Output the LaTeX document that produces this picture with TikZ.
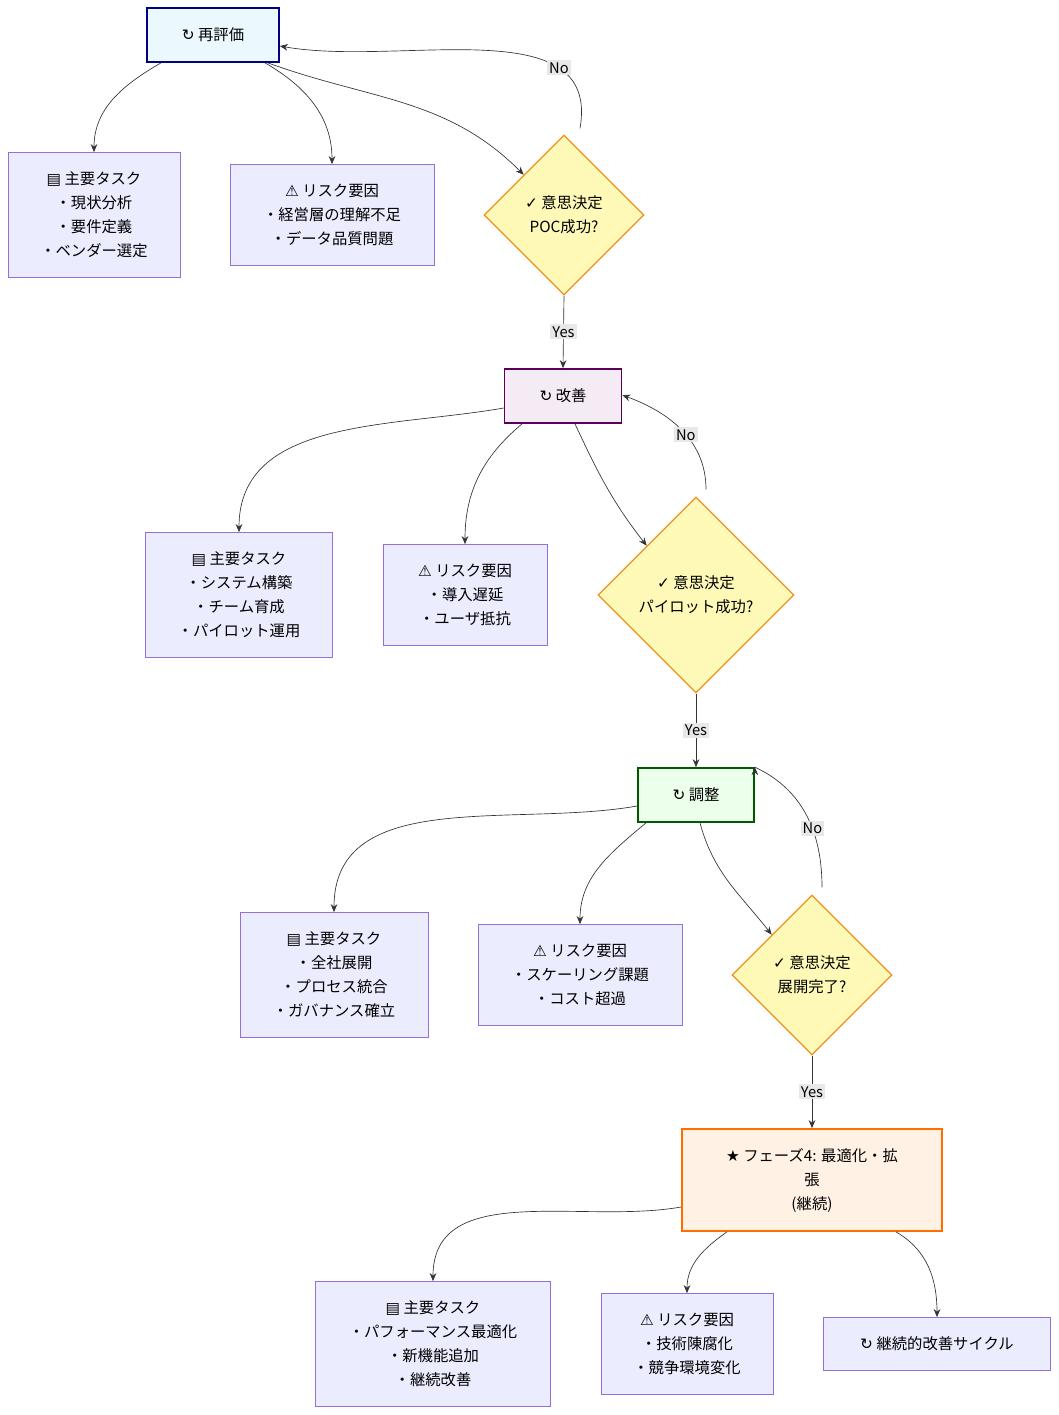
\documentclass[tikz,border=0pt]{standalone}
\usepackage{fontspec}
\setmainfont{Noto Sans CJK JP}
\newfontfamily\sym{DejaVu Sans}
\usetikzlibrary{arrows.meta,calc,positioning,shapes.geometric}
\definecolor{taskfill}{HTML}{ECECFF}
\definecolor{taskline}{HTML}{9370DB}
\definecolor{decfill}{HTML}{FFF9B8}
\definecolor{decline}{HTML}{F0901E}
\newcommand{\cyc}{{\sym ↻}\ }
\newcommand{\clip}{{\sym ▤}\ }
\newcommand{\warn}{{\sym ⚠}\ }
\newcommand{\chk}{{\sym ✓}\ }
\newcommand{\str}{{\sym ★}\ }
\tikzset{
  box/.style={draw=taskline,fill=taskfill,line width=0.6pt,align=center,inner sep=0pt,
    font=\fontsize{11.5}{18}\selectfont},
  stage/.style={box,line width=1.3pt,minimum height=54*0.75pt},
  dec/.style={diamond,draw=decline,fill=decfill,line width=1pt,align=center,aspect=1,
    inner sep=0pt,font=\fontsize{11.5}{18}\selectfont},
  lbl/.style={fill=black!9,inner sep=1.5pt,font=\fontsize{11}{13}\selectfont},
  arr/.style={-{Stealth[length=6pt,width=5pt]},draw=black!80,line width=0.5pt}
}
\begin{document}
\begin{tikzpicture}[x=0.75pt,y=-0.75pt]
\useasboundingbox (0,0) rectangle (1059,1415);
% stages
\node[stage,draw=blue!50!black,fill=cyan!8,minimum width=132*0.75pt] (reval) at (213,35) {\cyc 再評価};
\node[stage,draw=violet!70!black,fill=violet!8,minimum width=117*0.75pt] (imp) at (563,396) {\cyc 改善};
\node[stage,draw=green!35!black,fill=green!8,minimum width=116*0.75pt] (adj) at (696,795) {\cyc 調整};
\node[stage,draw=orange!85!red,fill=orange!10,minimum width=260*0.75pt,minimum height=102*0.75pt] (ph4) at (812,1180) {\str フェーズ4: 最適化・拡\\張\\(継続)};
% tasks and risks
\node[box,minimum width=172*0.75pt,minimum height=125*0.75pt] (task1) at (94,215) {\clip 主要タスク\\・現状分析\\・要件定義\\・ベンダー選定};
\node[box,minimum width=204*0.75pt,minimum height=101*0.75pt] (risk1) at (332,215) {\warn リスク要因\\・経営層の理解不足\\・データ品質問題};
\node[box,minimum width=187*0.75pt,minimum height=125*0.75pt] (task2) at (239,595) {\clip 主要タスク\\・システム構築\\・チーム育成\\・パイロット運用};
\node[box,minimum width=164*0.75pt,minimum height=101*0.75pt] (risk2) at (465,595) {\warn リスク要因\\・導入遅延\\・ユーザ抵抗};
\node[box,minimum width=188*0.75pt,minimum height=125*0.75pt] (task3) at (334,975) {\clip 主要タスク\\・全社展開\\・プロセス統合\\・ガバナンス確立};
\node[box,minimum width=204*0.75pt,minimum height=101*0.75pt] (risk3) at (580,975) {\warn リスク要因\\・スケーリング課題\\・コスト超過};
\node[box,minimum width=235*0.75pt,minimum height=125*0.75pt] (task4) at (433,1344) {\clip 主要タスク\\・パフォーマンス最適化\\・新機能追加\\・継続改善};
\node[box,minimum width=172*0.75pt,minimum height=101*0.75pt] (risk4) at (687,1344) {\warn リスク要因\\・技術陳腐化\\・競争環境変化};
\node[box,minimum width=227*0.75pt,minimum height=53*0.75pt] (cycle) at (937,1344) {\cyc 継続的改善サイクル};
% decisions
\node[dec,minimum size=160*0.75pt] (dec1) at (564,215) {\chk 意思決定\\POC成功?};
\node[dec,minimum size=196*0.75pt] (dec2) at (696,595) {\chk 意思決定\\パイロット成功?};
\node[dec,minimum size=160*0.75pt] (dec3) at (812,975) {\chk 意思決定\\展開完了?};
% connectors
\draw[arr] ($(reval.south)+(-52,0)$) to[out=210,in=90] (task1.north);
\draw[arr] ($(reval.south)+(52,0)$) to[out=-30,in=90] (risk1.north);
\draw[arr] ($(reval.south east)+(-12,0)$) to[out=-20,in=135] (dec1.north west);
\draw[arr] (dec1.north) ++(16,-6) to[out=80,in=-10] node[lbl,pos=0.25] {No} ($(reval.east)+(0,11)$);
\draw[arr] (dec1.south) -- node[lbl] {Yes} (imp.north);
\draw[arr] ($(imp.west)+(0,12)$) to[out=190,in=90] (task2.north);
\draw[arr] ($(imp.south)+(-41,0)$) to[out=220,in=90] (risk2.north);
\draw[arr] ($(imp.south)+(12,0)$) to[out=-65,in=128] (dec2.north west);
\draw[arr] (dec2.north) ++(10,-7) to[out=90,in=-20] node[lbl,pos=0.45] {No} ($(imp.north east)+(0,27)$);
\draw[arr] (dec2.south) -- node[lbl] {Yes} (adj.north);
\draw[arr] ($(adj.west)+(0,11)$) to[out=190,in=90] (task3.north);
\draw[arr] ($(adj.south)+(-50,0)$) to[out=220,in=90] (risk3.north);
\draw[arr] ($(adj.south)+(4,0)$) to[out=-75,in=128] (dec3.north west);
\draw[arr] (dec3.north) ++(10,-7) to[out=90,in=-25] node[lbl,pos=0.4] {No} (adj.north east) ++(0,0);
\draw[arr] (dec3.south) -- node[lbl] {Yes} (ph4.north);
\draw[arr] ($(ph4.west)+(0,27)$) to[out=190,in=90] (task4.north);
\draw[arr] ($(ph4.south)+(-85,0)$) to[out=215,in=90] (risk4.north);
\draw[arr] ($(ph4.south)+(84,0)$) to[out=-30,in=90] (cycle.north);
\end{tikzpicture}
\end{document}
